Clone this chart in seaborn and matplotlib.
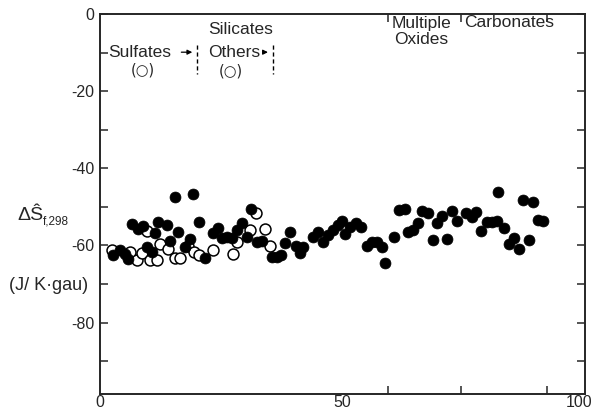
import numpy as np
import pandas as pd
import seaborn as sns
import matplotlib.pyplot as plt
import matplotlib.transforms as mtransforms
from matplotlib.ticker import FixedLocator

# open circles: sulfates and "other" silicates
open_x = [2.5, 6.2, 7.6, 8.7, 9.7, 10.3, 11.8, 12.4, 14.0, 15.5, 16.5, 18.1, 19.4, 20.4,
          23.3, 27.4, 28.2, 30.9, 32.2, 34.0, 35.1]
open_y = [-61.2, -61.7, -63.8, -62.0, -56.3, -63.8, -63.8, -59.7, -61.0, -63.3, -63.3, -60.2,
          -61.7, -62.5, -61.2, -62.3, -59.1, -56.0, -51.6, -55.8, -60.2]

# filled circles
fill_x = [2.7, 4.1, 5.2, 5.8, 6.6, 7.8, 8.9, 9.7, 10.7, 11.3, 12.0, 13.8, 14.4, 15.5, 16.1,
          17.5, 18.6, 19.2, 20.4, 21.6, 23.3, 24.3, 25.2, 26.2, 27.2, 28.2, 29.3, 30.3, 31.1,
          32.4, 33.4, 35.5, 36.5, 37.3, 38.1, 39.2, 40.4, 41.2, 41.9, 43.9, 44.9, 46.0, 47.0,
          48.0, 49.1, 49.9, 50.5, 51.5, 52.8, 53.8, 55.1, 56.1, 57.1, 58.1, 58.8, 60.6, 61.6,
          62.9, 63.5, 64.5, 65.6, 66.4, 67.6, 68.7, 69.5, 70.5, 71.5, 72.6, 73.6, 75.5, 76.7,
          77.5, 78.6, 79.8, 80.8, 81.9, 82.1, 83.3, 84.3, 85.4, 86.4, 87.2, 88.5, 89.3, 90.3,
          91.3]
fill_y = [-62.5, -61.2, -62.3, -63.6, -54.5, -55.8, -55.0, -60.4, -61.7, -56.8, -54.0, -54.7,
          -58.9, -47.5, -56.6, -60.4, -58.4, -46.7, -54.0, -63.3, -56.8, -55.5, -58.1, -57.8,
          -58.1, -56.0, -54.2, -57.8, -50.6, -59.1, -58.9, -63.0, -63.0, -62.5, -59.4, -56.6,
          -60.2, -62.0, -60.4, -57.8, -56.6, -59.1, -57.3, -56.0, -54.7, -53.7, -57.1, -55.3,
          -54.2, -55.3, -60.2, -59.1, -59.1, -60.4, -64.6, -57.8, -50.8, -50.6, -56.6, -56.0,
          -54.2, -51.1, -51.6, -58.6, -54.2, -52.4, -58.4, -51.1, -53.7, -51.6, -52.7, -51.4,
          -56.3, -54.0, -54.0, -53.7, -46.2, -55.5, -59.7, -58.1, -61.0, -48.2, -58.6, -48.8,
          -53.4, -53.7]

group_bounds = [59.4, 74.4, 92.2]
dash_bounds = [20, 35.7]

sns.set_style("ticks")
plt.rcParams['font.family'] = ['Liberation Sans', 'DejaVu Sans']
plt.rcParams['axes.unicode_minus'] = False

fig = plt.figure(figsize=(5.92, 4.12), dpi=100)
ax = fig.add_axes([100 / 592, 18 / 412, 485 / 592, 380 / 412])

df_open = pd.DataFrame({'x': open_x, 'y': open_y})
df_fill = pd.DataFrame({'x': fill_x, 'y': fill_y})
sns.scatterplot(data=df_open, x='x', y='y', ax=ax, s=62, facecolor='white',
                edgecolor='black', linewidth=1.1, zorder=3)
sns.scatterplot(data=df_fill, x='x', y='y', ax=ax, s=62, color='black',
                edgecolor='black', linewidth=0.5, zorder=4)

ax.set_xlim(0, 100)
ax.set_ylim(-98.5, 0)
ax.set_xlabel('')
ax.set_ylabel('')
for sp in ax.spines.values():
    sp.set_linewidth(1.4)
    sp.set_visible(True)

ax.set_xticks([0, 50, 100])
ax.xaxis.set_minor_locator(FixedLocator(group_bounds))
ax.tick_params(axis='x', which='major', length=0, pad=1, labelsize=11.5)
ax.tick_params(axis='x', which='minor', direction='in', length=6, width=1.1,
               top=True, bottom=True)
# pull the "100" label in so it stays on the canvas
shift = mtransforms.ScaledTranslation(-6 / 100, 0, fig.dpi_scale_trans)
lab100 = ax.get_xticklabels()[-1]
lab100.set_transform(lab100.get_transform() + shift)
ax.set_yticks([0, -20, -40, -60, -80])
ax.yaxis.set_minor_locator(FixedLocator([-10, -30, -50, -70, -90]))
ax.tick_params(axis='y', which='both', direction='in', length=6, width=1.1,
               left=True, right=True, labelsize=11.5, pad=4)

# group labels
kw = dict(ha='center', va='center', fontsize=12.5)
ax.text(28.9, -4.0, 'Silicates', **kw)
ax.text(8.9, -14.6, '(○)', ha='center', va='center', fontsize=10.5,
        family=['DejaVu Sans'])
ax.text(26.9, -14.8, '(○)', ha='center', va='center', fontsize=10.5,
        family=['DejaVu Sans'])
ax.text(66.3, -4.6, 'Multiple\nOxides', ha='center', va='center', fontsize=12.5,
        linespacing=1.1)
ax.text(84.3, -2.2, 'Carbonates', **kw)
ax.text(1.7, -9.9, 'Sulfates', ha='left', va='center', fontsize=12.5)
ax.text(22.3, -9.9, 'Others', ha='left', va='center', fontsize=12.5)
ax.annotate('', xy=(19.6, -9.9), xytext=(16.2, -9.9),
            arrowprops=dict(arrowstyle='-|>', lw=0.9, color='black',
                            mutation_scale=7))
ax.annotate('', xy=(35.2, -9.9), xytext=(33.2, -9.9),
            arrowprops=dict(arrowstyle='-|>', lw=0.9, color='black',
                            mutation_scale=7))
for xb in dash_bounds:
    ax.plot([xb, xb], [-8.0, -15.5], color='black', lw=1.0, ls=(0, (3, 2)))

# y label
fig.text(17 / 592, 1 - 216 / 412, 'ΔŜ', fontsize=14, ha='left', va='center')
fig.text(43 / 592, 1 - 222 / 412, 'f,298', fontsize=8.5, ha='left', va='center')
fig.text(49 / 592, 1 - 286 / 412, '(J/ K·gau)', fontsize=13, ha='center',
         va='center')

plt.savefig('out.png', dpi=100)
